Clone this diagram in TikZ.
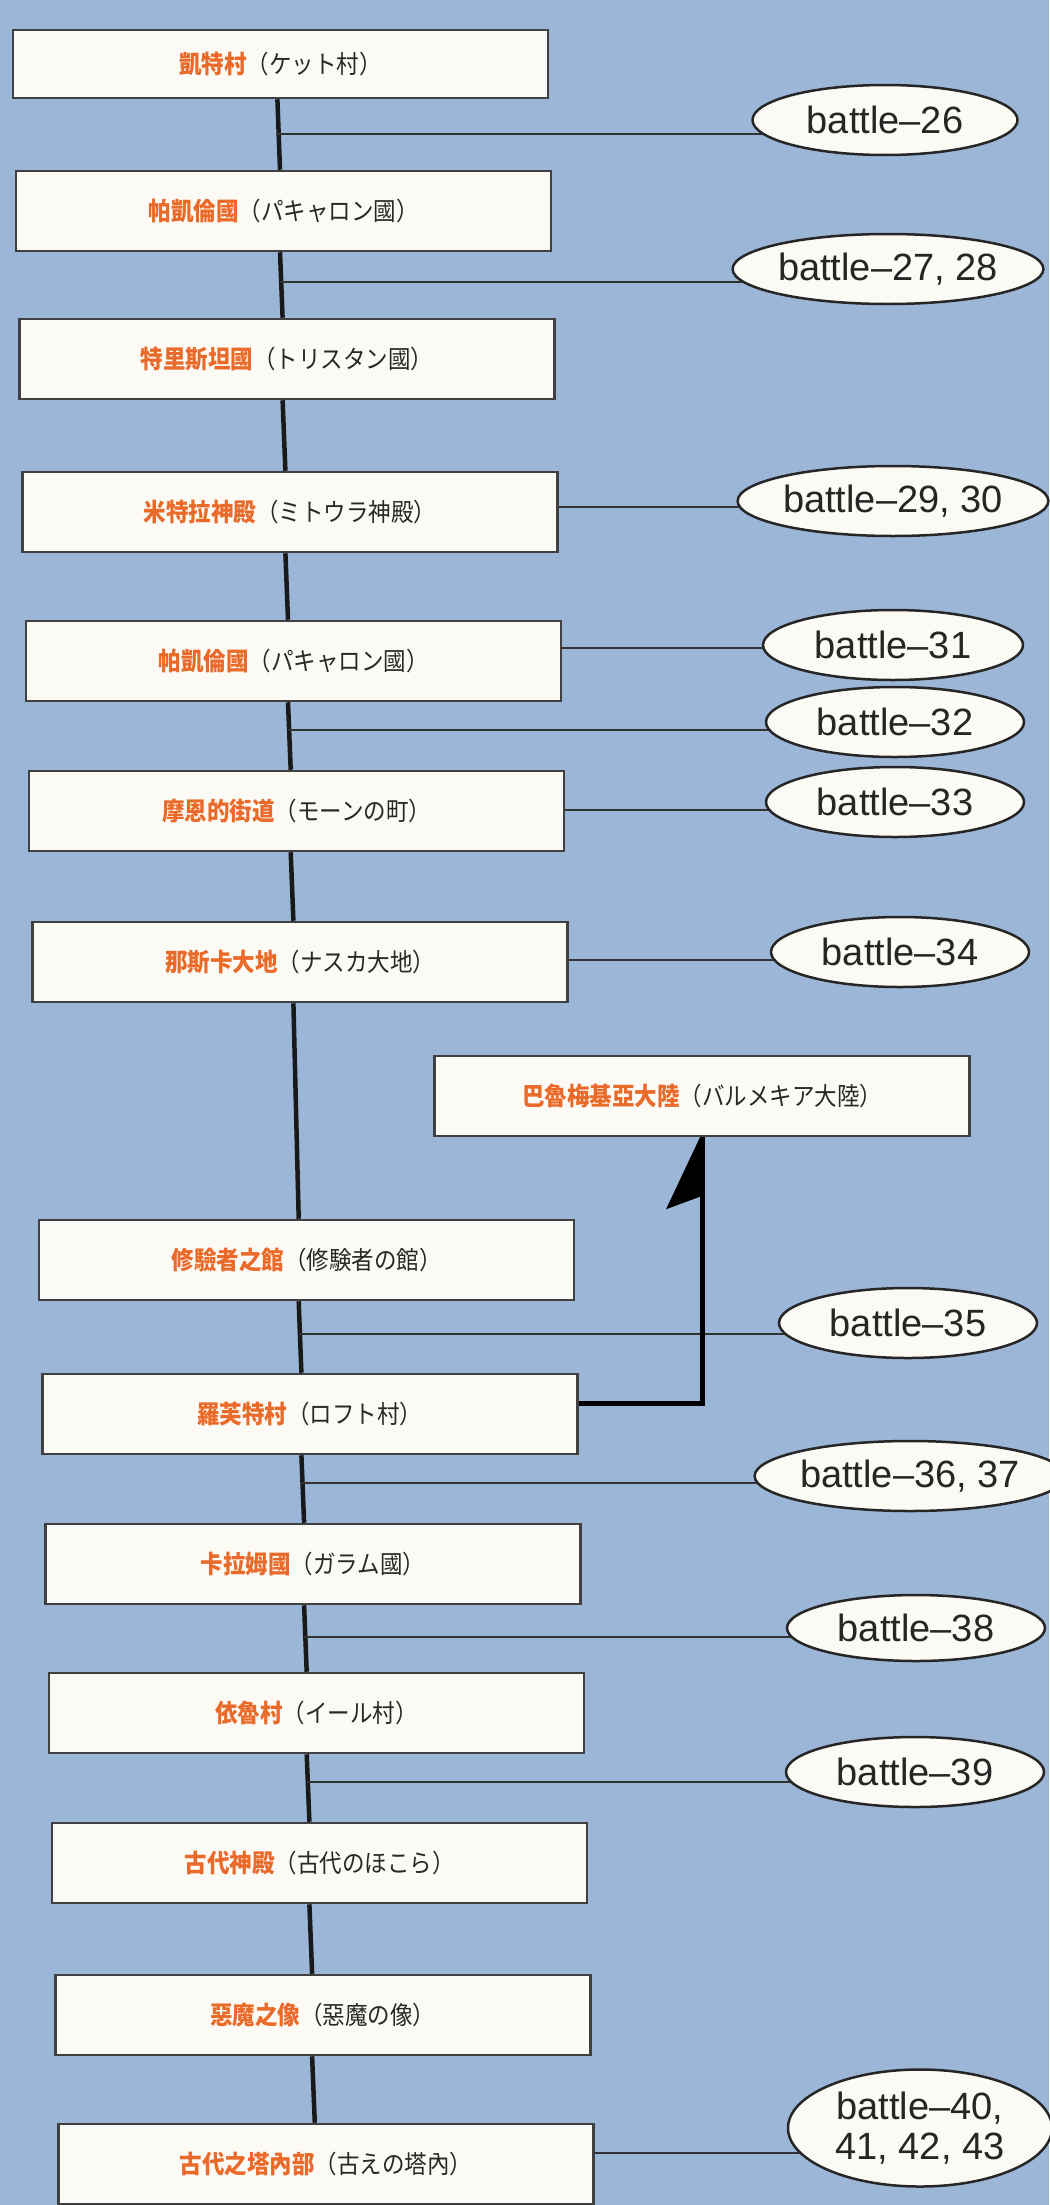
\documentclass[tikz,border=0pt]{standalone}
\usepackage{fontspec}
\setmainfont{Liberation Sans}
\newfontfamily\jpfont[FakeStretch=0.9]{Noto Sans CJK JP}
\usetikzlibrary{shapes.geometric}
\definecolor{bg}{RGB}{156,182,215}
\definecolor{boxfill}{RGB}{251,250,244}
\definecolor{cn}{RGB}{234,106,42}
\definecolor{jpc}{RGB}{40,40,40}
\pgfdeclarelayer{background}
\pgfsetlayers{background,main}
\newcommand{\loclabel}[2]{\textcolor{cn}{\bfseries #1}\textcolor{jpc}{（#2）}}
\tikzset{
  loc/.style={draw=black!75, line width=2.5pt, fill=boxfill, minimum width=535pt,
    minimum height=80pt, inner sep=0pt, font=\jpfont\fontsize{25}{27}\selectfont},
  battle/.style={ellipse, draw=black!85, line width=2.5pt, fill=boxfill,
    minimum width=258pt, minimum height=70pt, inner sep=0pt, align=center,
    text=black!85, font=\fontsize{38}{40}\selectfont},
  trunkline/.style={line width=4.5pt, black!90},
  branchline/.style={line width=2.5pt, black!80},
  routeline/.style={line width=5pt, black},
}
\begin{document}
\begin{tikzpicture}[x=1pt,y=-1pt]
\useasboundingbox (0,0) rectangle (1049,2205);
% place boxes
\node[loc, minimum height=68pt] (b1) at (280.5,64) {\loclabel{凱特村}{ケット村}};
\node[loc] (b2) at (283.7,211) {\loclabel{帕凱倫國}{パキャロン國}};
\node[loc] (b3) at (286.9,359) {\loclabel{特里斯坦國}{トリスタン國}};
\node[loc] (b4) at (290.2,512) {\loclabel{米特拉神殿}{ミトウラ神殿}};
\node[loc] (b5) at (293.5,661) {\loclabel{帕凱倫國}{パキャロン國}};
\node[loc] (b6) at (296.7,811) {\loclabel{摩恩的街道}{モーンの町}};
\node[loc] (b7) at (300,962) {\loclabel{那斯卡大地}{ナスカ大地}};
\node[loc] (b8) at (702,1096) {\loclabel{巴魯梅基亞大陸}{バルメキア大陸}};
\node[loc] (b9) at (306.5,1260) {\loclabel{修驗者之館}{修験者の館}};
\node[loc] (b10) at (309.8,1414) {\loclabel{羅芙特村}{ロフト村}};
\node[loc] (b11) at (313.1,1564) {\loclabel{卡拉姆國}{ガラム國}};
\node[loc] (b12) at (316.3,1713) {\loclabel{依魯村}{イール村}};
\node[loc] (b13) at (319.5,1863) {\loclabel{古代神殿}{古代のほこら}};
\node[loc] (b14) at (322.8,2015) {\loclabel{惡魔之像}{惡魔の像}};
\node[loc] (b15) at (326.1,2164) {\loclabel{古代之塔內部}{古えの塔內}};
% battle ellipses
\node[battle, minimum width=265pt] (e26) at (885,120) {battle–26};
\node[battle] (e2728) at (888,269) {battle–27, 28};
\node[battle, minimum width=260pt] (e2930) at (893,501) {battle–29, 30};
\node[battle, minimum width=260pt] (e31) at (893,645) {battle–31};
\node[battle] (e32) at (895,722) {battle–32};
\node[battle] (e33) at (895,802) {battle–33};
\node[battle] (e34) at (900,952) {battle–34};
\node[battle] (e35) at (908,1323) {battle–35};
\node[battle, minimum width=261pt] (e3637) at (910,1476) {battle–36, 37};
\node[battle, minimum height=66pt] (e38) at (916,1628) {battle–38};
\node[battle] (e39) at (915,1772) {battle–39};
\node[battle, minimum width=264pt, minimum height=117pt] (e40) at (920,2128) {battle–40,\\41, 42, 43};
% trunk anchor points (the trunk runs slightly left of the box centres)
\foreach \b/\s in {b1/-3.1,b2/-3.7,b3/-4.3,b4/-4.8,b5/-5.5,b6/-6.0,b7/-6.6,b9/-7.8,
                   b10/-8.4,b11/-9.0,b12/-9.6,b13/-10.1,b14/-10.7,b15/-11.3}{
  \coordinate (\b s) at ([xshift=\s pt]\b.south);
  \coordinate (\b n) at ([xshift=\s pt]\b.north);
}
\begin{pgfonlayer}{background}
\fill[bg] (0,0) rectangle (1049,2205);
% trunk
\draw[trunkline] (b1s) -- (b2n);
\draw[trunkline] (b2s) -- (b3n);
\draw[trunkline] (b3s) -- (b4n);
\draw[trunkline] (b4s) -- (b5n);
\draw[trunkline] (b5s) -- (b6n);
\draw[trunkline] (b6s) -- (b7n);
\draw[trunkline] (b7s) -- (b9n);
\draw[trunkline] (b9s) -- (b10n);
\draw[trunkline] (b10s) -- (b11n);
\draw[trunkline] (b11s) -- (b12n);
\draw[trunkline] (b12s) -- (b13n);
\draw[trunkline] (b13s) -- (b14n);
\draw[trunkline] (b14s) -- (b15n);
% branches from trunk
\draw[branchline] (b1s |- 0,134) -- (e26.center |- 0,134);
\draw[branchline] (b2s |- 0,282) -- (e2728.center |- 0,282);
\draw[branchline] (b5s |- 0,730) -- (e32.center |- 0,730);
\draw[branchline] (b9s |- 0,1334) -- (e35.center |- 0,1334);
\draw[branchline] (b10s |- 0,1483) -- (e3637.center |- 0,1483);
\draw[branchline] (b11s |- 0,1637) -- (e38.center |- 0,1637);
\draw[branchline] (b12s |- 0,1782) -- (e39.center |- 0,1782);
% branches from boxes
\draw[branchline] (b4.east |- 0,507) -- (e2930.center |- 0,507);
\draw[branchline] (b5.east |- 0,648) -- (e31.center |- 0,648);
\draw[branchline] (b6.east |- 0,810) -- (e33.center |- 0,810);
\draw[branchline] (b7.east |- 0,960) -- (e34.center |- 0,960);
\draw[branchline] (b15.east |- 0,2153) -- (e40.center |- 0,2153);
% route to the continent
\draw[routeline] (b10.east |- 0,1403) -| (b8.south);
\fill[black] ([xshift=-2pt]b8.south) -- ++(-34,72) -- ++(38,-14) -- ++(0,-58) -- cycle;
\end{pgfonlayer}
\end{tikzpicture}
\end{document}
